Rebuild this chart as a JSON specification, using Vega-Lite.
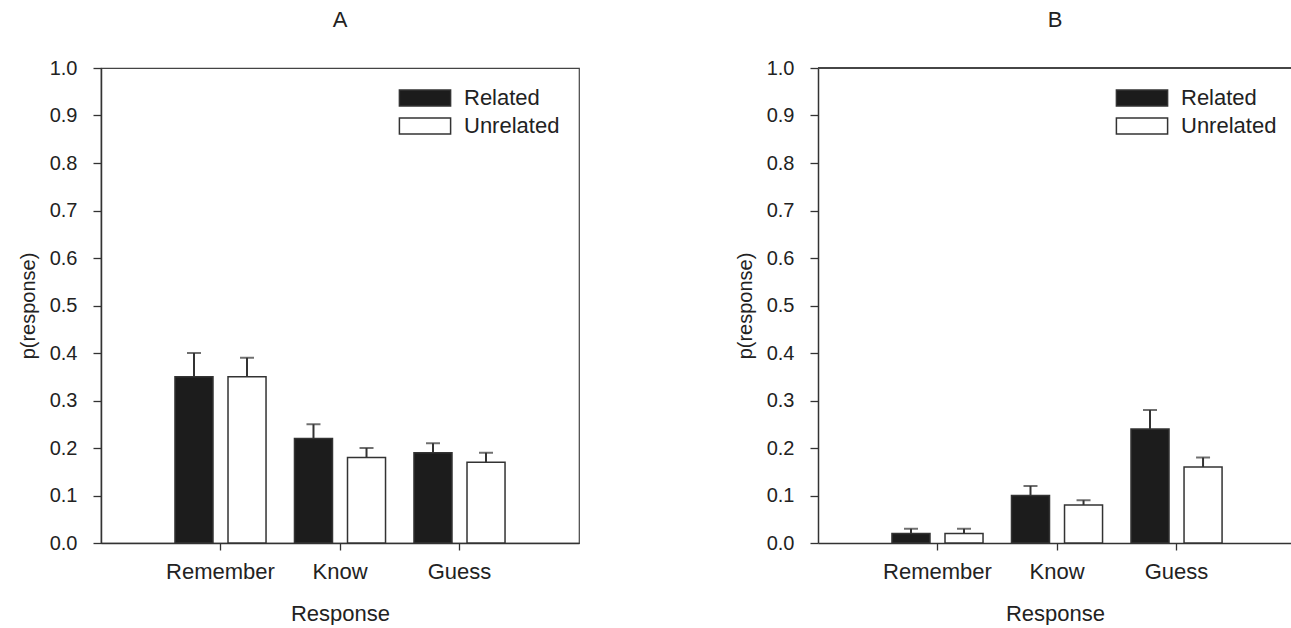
{
  "$schema": "https://vega.github.io/schema/vega-lite/v6.json",
  "padding": {"left": 17, "top": 8, "right": 0, "bottom": 0},
  "background": "white",
  "config": {
    "font": "Liberation Sans",
    "view": {"stroke": "#444", "strokeWidth": 1.2},
    "title": {"fontSize": 22, "fontWeight": "normal", "color": "#222", "offset": 26},
    "axis": {
      "domainColor": "#333", "tickColor": "#333", "labelColor": "#222", "titleColor": "#222",
      "grid": false, "labelFont": "Liberation Sans", "titleFont": "Liberation Sans",
      "titleFontWeight": "normal", "domainWidth": 1.5, "tickWidth": 1.3
    }
  },
  "datasets": {
    "d": [
      {"panel": "A", "response": "Remember", "condition": "Related", "mean": 0.35, "upper": 0.40},
      {"panel": "A", "response": "Remember", "condition": "Unrelated", "mean": 0.35, "upper": 0.39},
      {"panel": "A", "response": "Know", "condition": "Related", "mean": 0.22, "upper": 0.25},
      {"panel": "A", "response": "Know", "condition": "Unrelated", "mean": 0.18, "upper": 0.20},
      {"panel": "A", "response": "Guess", "condition": "Related", "mean": 0.19, "upper": 0.21},
      {"panel": "A", "response": "Guess", "condition": "Unrelated", "mean": 0.17, "upper": 0.19},
      {"panel": "B", "response": "Remember", "condition": "Related", "mean": 0.02, "upper": 0.03},
      {"panel": "B", "response": "Remember", "condition": "Unrelated", "mean": 0.02, "upper": 0.03},
      {"panel": "B", "response": "Know", "condition": "Related", "mean": 0.10, "upper": 0.12},
      {"panel": "B", "response": "Know", "condition": "Unrelated", "mean": 0.08, "upper": 0.09},
      {"panel": "B", "response": "Guess", "condition": "Related", "mean": 0.24, "upper": 0.28},
      {"panel": "B", "response": "Guess", "condition": "Unrelated", "mean": 0.16, "upper": 0.18}
    ]
  },
  "resolve": {
    "scale": {"x": "independent", "y": "independent", "fill": "independent", "xOffset": "independent"},
    "legend": {"fill": "independent"}
  },
  "spacing": 155,
  "hconcat": [
    {
      "title": "A",
      "width": 478,
      "height": 475,
      "data": {"name": "d"},
      "transform": [{"filter": "datum.panel == 'A'"}],
      "layer": [
        {
          "mark": {"type": "bar", "stroke": "#333", "strokeWidth": 1.5},
          "encoding": {
            "x": {"field": "response", "type": "nominal", "sort": ["Remember", "Know", "Guess"],
                  "scale": {"paddingInner": 0.238, "paddingOuter": 0.619},
                  "title": "Response",
                  "axis": {"labelAngle": 0, "labelFontSize": 22, "titleFontSize": 22, "tickSize": 7, "labelPadding": 11, "titlePadding": 21}},
            "xOffset": {"field": "condition", "type": "nominal", "sort": ["Related", "Unrelated"], "scale": {"paddingInner": 0.283, "paddingOuter": 0}},
            "y": {"field": "mean", "type": "quantitative", "scale": {"domain": [0, 1]},
                  "title": "p(response)",
                  "axis": {"values": [0, 0.1, 0.2, 0.3, 0.4, 0.5, 0.6, 0.7, 0.8, 0.9, 1.0], "format": ".1f", "labelFontSize": 20, "titleFontSize": 20, "tickSize": 8, "labelPadding": 16, "titlePadding": 11}},
            "fill": {"field": "condition", "type": "nominal",
                     "scale": {"domain": ["Related", "Unrelated"], "range": ["#1c1c1c", "#ffffff"]},
                     "legend": {"orient": "none", "legendX": 313, "legendY": 19, "title": null, "padding": 0,
                                "symbolType": "M-3.2,-1H3.2V1H-3.2Z", "symbolSize": 256, "symbolStrokeColor": "#333", "symbolStrokeWidth": 1.5,
                                "labelFontSize": 22, "labelColor": "#222", "labelOffset": 28, "rowPadding": 6}}
          }
        },
        {
          "mark": {"type": "rule", "color": "#333", "strokeWidth": 2},
          "encoding": {
            "x": {"field": "response", "type": "nominal", "sort": ["Remember", "Know", "Guess"]},
            "xOffset": {"field": "condition", "type": "nominal", "sort": ["Related", "Unrelated"]},
            "y": {"field": "mean", "type": "quantitative"},
            "y2": {"field": "upper"}
          }
        },
        {
          "mark": {"type": "tick", "color": "#333", "thickness": 2, "size": 14},
          "encoding": {
            "x": {"field": "response", "type": "nominal", "sort": ["Remember", "Know", "Guess"]},
            "xOffset": {"field": "condition", "type": "nominal", "sort": ["Related", "Unrelated"]},
            "y": {"field": "upper", "type": "quantitative"}
          }
        }
      ]
    },
    {
      "title": "B",
      "width": 474,
      "height": 475,
      "view": {"stroke": null},
      "data": {"name": "d"},
      "transform": [{"filter": "datum.panel == 'B'"}],
      "layer": [
        {
          "mark": {"type": "bar", "stroke": "#333", "strokeWidth": 1.5},
          "encoding": {
            "x": {"field": "response", "type": "nominal", "sort": ["Remember", "Know", "Guess"],
                  "scale": {"paddingInner": 0.238, "paddingOuter": 0.602, "align": 0.514},
                  "title": "Response",
                  "axis": {"labelAngle": 0, "labelFontSize": 22, "titleFontSize": 22, "tickSize": 7, "labelPadding": 11, "titlePadding": 21}},
            "xOffset": {"field": "condition", "type": "nominal", "sort": ["Related", "Unrelated"], "scale": {"paddingInner": 0.283, "paddingOuter": 0}},
            "y": {"field": "mean", "type": "quantitative", "scale": {"domain": [0, 1]},
                  "title": "p(response)",
                  "axis": {"values": [0, 0.1, 0.2, 0.3, 0.4, 0.5, 0.6, 0.7, 0.8, 0.9, 1.0], "format": ".1f", "labelFontSize": 20, "titleFontSize": 20, "tickSize": 8, "labelPadding": 16, "titlePadding": 11}},
            "fill": {"field": "condition", "type": "nominal",
                     "scale": {"domain": ["Related", "Unrelated"], "range": ["#1c1c1c", "#ffffff"]},
                     "legend": {"orient": "none", "legendX": 313, "legendY": 19, "title": null, "padding": 0,
                                "symbolType": "M-3.2,-1H3.2V1H-3.2Z", "symbolSize": 256, "symbolStrokeColor": "#333", "symbolStrokeWidth": 1.5,
                                "labelFontSize": 22, "labelColor": "#222", "labelOffset": 28, "rowPadding": 6}}
          }
        },
        {
          "mark": {"type": "rule", "color": "#333", "strokeWidth": 2},
          "encoding": {
            "x": {"field": "response", "type": "nominal", "sort": ["Remember", "Know", "Guess"]},
            "xOffset": {"field": "condition", "type": "nominal", "sort": ["Related", "Unrelated"]},
            "y": {"field": "mean", "type": "quantitative"},
            "y2": {"field": "upper"}
          }
        },
        {
          "mark": {"type": "tick", "color": "#333", "thickness": 2, "size": 14},
          "encoding": {
            "x": {"field": "response", "type": "nominal", "sort": ["Remember", "Know", "Guess"]},
            "xOffset": {"field": "condition", "type": "nominal", "sort": ["Related", "Unrelated"]},
            "y": {"field": "upper", "type": "quantitative"}
          }
        },
        {
          "mark": {"type": "rule", "color": "#444", "strokeWidth": 1.2},
          "encoding": {"y": {"datum": 1}}
        }
      ]
    }
  ]
}
